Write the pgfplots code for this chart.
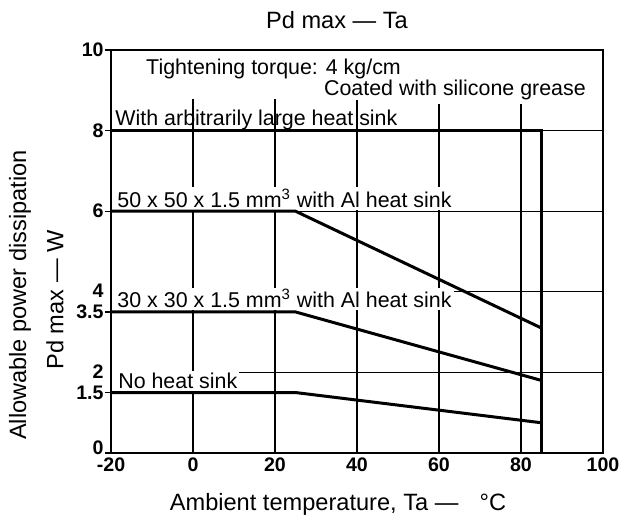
\documentclass[border=0pt]{standalone}
\usepackage{pgfplots}
\pgfplotsset{compat=1.18}
\usepackage{fontspec}
\setmainfont{Liberation Sans}
\begin{document}
\begin{tikzpicture}
\useasboundingbox (-55.5pt,-32pt) rectangle (261pt,226.5pt);
\begin{axis}[
  at={(0pt,0pt)}, anchor=south west,
  scale only axis, width=246pt, height=201.5pt,
  xmin=-20, xmax=100, ymin=0, ymax=10,
  xtick={-20,0,20,40,60,80,100},
  ytick={0,1.5,3.5,6,8,10},
  yticklabels={{},1.5,3.5,6,8,10},
  extra y ticks={2.03,4.03},
  extra y tick labels={2,4},
  extra y tick style={tick style={draw=none}},
  tick label style={font=\fontsize{9.8}{11}\selectfont\bfseries},
  /pgf/number format/assume math mode=true,
  xtick style={draw=none},
  ytick style={line width=0.6pt, black},
  tick align=outside, major tick length=3pt,
  ytick pos=left, xtick pos=bottom,
  yticklabel style={inner sep=0.5pt},
  xticklabel style={yshift=1.2pt, inner sep=0.5pt},
  axis line style={line width=1pt},
  clip=false,
]
% grid lines
\draw[line width=0.65pt] (axis cs:-20,8) -- (axis cs:100,8);
\draw[line width=0.65pt] (axis cs:-20,6) -- (axis cs:100,6);
\draw[line width=0.65pt] (axis cs:57,4) -- (axis cs:100,4);
\draw[line width=0.65pt] (axis cs:11,2) -- (axis cs:100,2);
\draw[line width=0.65pt] (axis cs:0,0) -- (axis cs:0,8.78);
\draw[line width=0.65pt] (axis cs:20,0) -- (axis cs:20,8.78);
\draw[line width=0.65pt] (axis cs:40,0) -- (axis cs:40,8.78);
\draw[line width=0.65pt] (axis cs:60,0) -- (axis cs:60,8.67);
\draw[line width=0.65pt] (axis cs:80,0) -- (axis cs:80,8.67);
% zero label of y axis
\node[anchor=base east, inner sep=0pt, font=\fontsize{9.8}{11}\selectfont\bfseries] at (axis cs:-20,0) [xshift=-3.5pt, yshift=-0.8pt] {0};
% labels
\node[anchor=base west, inner sep=0pt, font=\fontsize{10.7}{12}\selectfont] at (axis cs:-11.5,9.40) {Tightening torque: 4 kg/cm};
\node[anchor=base east, inner sep=0pt, fill=white, font=\fontsize{10.7}{12}\selectfont] at (axis cs:95.9,8.88) {Coated with silicone grease};
\node[anchor=base west, inner sep=0pt, font=\fontsize{10.7}{12}\selectfont] at (axis cs:-19,8.13) {With arbitrarily large heat sink};
\node[anchor=base west, inner sep=1pt, fill=white, font=\fontsize{10.7}{12}\selectfont] at (axis cs:-19,6.09) {50 x 50 x 1.5 mm\textsuperscript{3} with Al heat sink};
\node[anchor=base west, inner sep=1pt, fill=white, font=\fontsize{10.7}{12}\selectfont] at (axis cs:-19,3.60) {30 x 30 x 1.5 mm\textsuperscript{3} with Al heat sink};
\node[anchor=base west, inner sep=1pt, fill=white, font=\fontsize{10.7}{12}\selectfont] at (axis cs:-18.8,1.60) {No heat sink};
% data
\addplot[line width=1.5pt, mark=none] coordinates {(-20,8) (85,8) (85,0)};
\addplot[line width=1.5pt, mark=none] coordinates {(-20,6) (25,6) (85,3.1)};
\addplot[line width=1.5pt, mark=none] coordinates {(-20,3.5) (25,3.5) (85,1.8)};
\addplot[line width=1.5pt, mark=none] coordinates {(-20,1.5) (25,1.5) (85,0.75)};
\end{axis}
\node[font=\fontsize{11.8}{14}\selectfont] at (113pt,216.5pt) {Pd max — Ta};
\node[font=\fontsize{11.8}{14}\selectfont] at (113.5pt,-25.5pt) {Ambient temperature, Ta —\hspace{0.9em}°C};
\node[rotate=90, font=\fontsize{11.8}{14}\selectfont] at (-45.5pt,79pt) {Allowable power dissipation};
\node[rotate=90, font=\fontsize{11.8}{14}\selectfont] at (-28pt,76.5pt) {Pd max — W};
\end{tikzpicture}
\end{document}
